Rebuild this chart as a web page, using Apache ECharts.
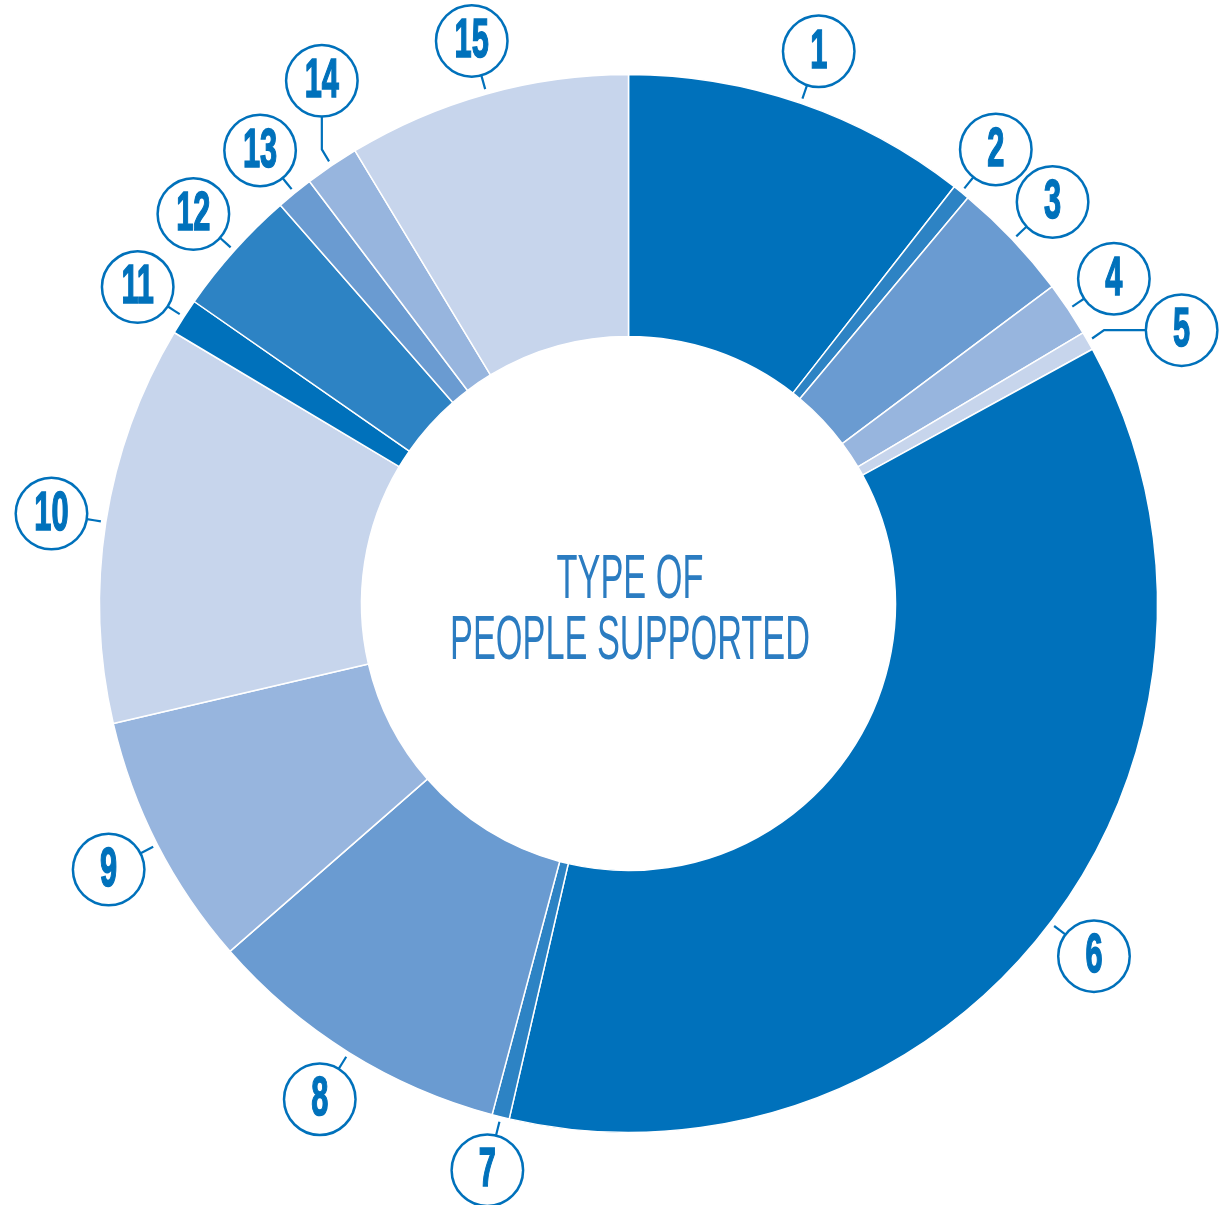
<!DOCTYPE html>
<html>
<head>
<meta charset="utf-8">
<script src="https://cdn.jsdelivr.net/npm/echarts@6/dist/echarts.min.js"></script>
<style>
html,body{margin:0;padding:0;background:#fff;}
#chart{width:1222px;height:1205px;}
</style>
</head>
<body>
<div id="chart"></div>
<script>
// ---- data ----
const categories = ['1','2','3','4','5','6','7','8','9','10','11','12','13','14','15'];
const shares = [10.56, 0.53, 3.69, 1.67, 0.57, 36.60, 0.53, 9.43, 7.78, 12.20, 1.11, 3.90, 1.13, 1.65, 8.65];
const palette = ['#0071bb', '#2d83c4', '#6a9bd1', '#97b5de', '#c7d5ec'];
const centerTitle = ['TYPE OF', 'PEOPLE SUPPORTED'];

// ---- layout ----
const CX = 628.5, CY = 603.5, R_IN = 267, R_OUT = 529;
const LABEL_DIST = 584, CIRCLE_R = 36, LINE_START = 534;
const BLUE = '#0071bb';

const total = shares.reduce((a, b) => a + b, 0);
const midAngles = [];
{
  let acc = 0;
  shares.forEach(v => { const a = v / total * 360; midAngles.push(acc + a / 2); acc += a; });
}
function polar(angDeg, r) {
  const a = angDeg * Math.PI / 180;
  return [CX + r * Math.sin(a), CY - r * Math.cos(a)];
}
// labels nudged off the radial direction to avoid crowding
const labelNudge = { 4: { ang: 63.7, dist: 617, bend: 'h' }, 13: { ang: 329.6, dist: 606, bend: 'v' } };
function labelCenter(i) {
  const n = labelNudge[i];
  return polar(n ? n.ang : midAngles[i], n ? n.dist : LABEL_DIST);
}

const numberTexts = categories.map((c, i) => {
  const p = labelCenter(i);
  return {
    type: 'text', x: p[0], y: p[1] + 1, scaleX: 0.56, z: 100,
    style: {
      text: c,
      font: 'bold 55px "Liberation Sans", Arial, sans-serif',
      fill: BLUE, stroke: BLUE, lineWidth: 1.6,
      align: 'center', verticalAlign: 'middle'
    }
  };
});

const chart = echarts.init(document.getElementById('chart'), null, { renderer: 'canvas' });
const option = {
  animation: false,
  backgroundColor: '#ffffff',
  graphic: [{
    type: 'text',
    x: 630, y: 550,
    scaleX: 0.545,
    style: {
      text: centerTitle.join('\n'),
      font: 'normal 63px "Liberation Sans", Arial, sans-serif',
      fill: '#2b7cc1',
      align: 'center',
      verticalAlign: 'top',
      lineHeight: 61
    }
  }].concat(numberTexts),
  series: [{
    type: 'pie',
    center: [CX, CY],
    radius: [R_IN, R_OUT],
    startAngle: 90,
    clockwise: true,
    avoidLabelOverlap: false,
    minAngle: 0,
    itemStyle: { borderColor: '#ffffff', borderWidth: 1.5 },
    data: categories.map((c, i) => ({
      name: c, value: shares[i],
      itemStyle: { color: palette[i % 5] }
    })),
    label: {
      show: true,
      position: 'outside',
      formatter: '{c| }',
      rich: {
        c: {
          width: 69, height: 69, lineHeight: 69,
          align: 'center', verticalAlign: 'middle',
          borderRadius: 36, borderColor: BLUE, borderWidth: 2.5,
          backgroundColor: '#ffffff',
          fontSize: 10
        }
      }
    },
    labelLine: { show: true, length: 10, length2: 0, smooth: false, lineStyle: { color: BLUE, width: 2.2 } },
    emphasis: { disabled: true },
    labelLayout: function (params) {
      const i = params.dataIndex;
      const mid = midAngles[i];
      const n = labelNudge[i];
      const dist = n ? n.dist : LABEL_DIST;
      const c = labelCenter(i);
      const s = polar(mid, LINE_START);
      let pts;
      if (n && n.bend === 'h') {
        pts = [s, [s[0] + 12, c[1]], [c[0] - CIRCLE_R, c[1]]];
      } else if (n && n.bend === 'v') {
        pts = [s, [c[0], s[1] - 12], [c[0], c[1] + CIRCLE_R]];
      } else {
        const e = polar(mid, dist - CIRCLE_R);
        pts = [s, [(s[0] + e[0]) / 2, (s[1] + e[1]) / 2], e];
      }
      return { x: c[0], y: c[1], align: 'center', verticalAlign: 'middle', labelLinePoints: pts };
    }
  }]
};
chart.setOption(option);
</script>
</body>
</html>
